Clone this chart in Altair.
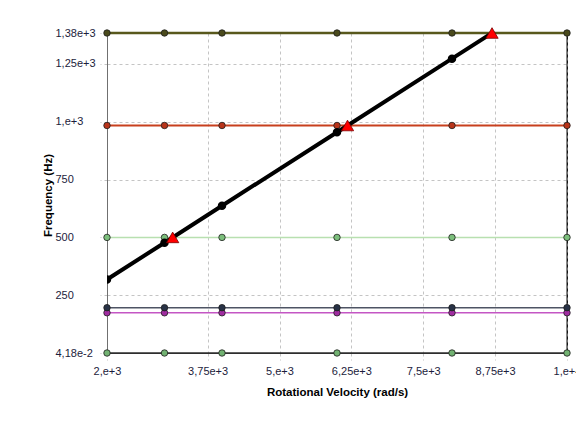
import altair as alt
import pandas as pd

# ---- data ----
speed = [2000, 3000, 4000, 6000, 8000, 10000]
mode_1 = [0.0418, 0.0418, 0.0418, 0.0418, 0.0418, 0.0418]
mode_2 = [174, 174, 174, 174, 174, 174]
mode_3 = [196, 196, 196, 196, 196, 196]
mode_4 = [500, 500, 500, 500, 500, 500]
mode_5 = [984, 984, 984, 984, 984, 984]
mode_6 = [1384, 1384, 1384, 1384, 1384, 1384]
excitation = [318, 477, 637, 955, 1273, 1592]
cross_speed = [3142, 6183, 8696]
cross_freq = [500, 984, 1384]

x_ticks = [2000, 3750, 5000, 6250, 7500, 8750, 10000]
x_labels = ["2,e+3", "3,75e+3", "5,e+3", "6,25e+3", "7,5e+3", "8,75e+3", "1,e+4"]
y_ticks = [0.0418, 250, 500, 750, 1000, 1250, 1384]
y_labels = ["4,18e-2", "250", "500", "750", "1,e+3", "1,25e+3", "1,38e+3"]

modes = [
    ("m1", mode_1, "#2e2e2e", 1.5, "#72b272"),
    ("m2", mode_2, "#c456c4", 1.5, "#a02ca0"),
    ("m3", mode_3, "#4e5464", 1.5, "#283246"),
    ("m4", mode_4, "#b8e0b0", 1.5, "#7cbf7c"),
    ("m5", mode_5, "#c8401e", 2.0, "#b8341a"),
    ("m6", mode_6, "#58581c", 2.5, "#4a4a1c"),
]


def label_expr(vals, labs):
    expr = "''"
    for v, l in zip(reversed(vals), reversed(labs)):
        expr = f"abs(datum.value - {v}) < 0.001 ? '{l}' : ({expr})"
    return expr


FONT = "Liberation Sans"
LABEL_COLOR = "#1c1c3c"

x_scale = alt.Scale(domain=[2000, 10000], nice=False, zero=False)
y_scale = alt.Scale(domain=[0.0418, 1384], nice=False, zero=False)

x_axis = alt.Axis(
    title="Rotational Velocity (rad/s)",
    values=x_ticks,
    labelExpr=label_expr(x_ticks, x_labels),
    labelPadding=5,
    titlePadding=10,
    domainColor="#333333",
    labelOverlap=False,
    labelFlush=False,
)
y_axis = alt.Axis(
    title="Frequency (Hz)",
    values=y_ticks,
    labelExpr=label_expr(y_ticks, y_labels),
    labelAlign="left",
    labelBaseline="middle",
    labelPadding=45,
    titleX=-54,
    titleY=162,
    titleAngle=-90,
    titleBaseline="bottom",
    titleAlign="center",
    domainColor="#707070",
    labelOverlap=False,
    labelFlush=False,
)


def enc(chart):
    return chart.encode(
        x=alt.X("speed:Q", scale=x_scale, axis=x_axis),
        y=alt.Y("freq:Q", scale=y_scale, axis=y_axis),
    )


layers = []
dot_layers = []
for name, vals, lcol, lw, dcol in modes:
    base = enc(alt.Chart(pd.DataFrame({"speed": speed, "freq": vals})))
    layers.append(base.mark_line(color=lcol, strokeWidth=lw))
    dot_layers.append(
        base.mark_point(filled=True, fill=dcol, stroke="#1e1e1e", strokeWidth=0.8,
                        size=42, opacity=1)
    )

# right frame edge, drawn over the dashed grid line at the last tick
right_edge = alt.Chart(pd.DataFrame({"speed": [x_ticks[-1]]})).mark_rule(
    color="#111111", strokeWidth=1
).encode(x=alt.X("speed:Q", scale=x_scale, axis=x_axis))

ex_base = enc(alt.Chart(pd.DataFrame({"speed": speed, "freq": excitation})))
ex_line = ex_base.mark_line(color="#000000", strokeWidth=4, clip=True)
ex_dots = ex_base.mark_point(filled=True, fill="#000000", stroke="#000000",
                             size=42, opacity=1, clip=True)

cross = enc(alt.Chart(pd.DataFrame({"speed": cross_speed, "freq": cross_freq}))).mark_point(
    shape="triangle-up", filled=True, fill="#ff0000", stroke="#7a0000",
    strokeWidth=0.8, size=150, opacity=1
)

chart = alt.layer(right_edge, *layers, ex_line, *dot_layers, ex_dots, cross).properties(
    width=460,
    height=320,
    autosize=alt.AutoSizeParams(type="none"),
    padding={"left": 107, "top": 33, "right": 9, "bottom": 68},
    background="white",
).configure_view(
    stroke="#1a1a1a", strokeWidth=1
).configure_axis(
    grid=True,
    gridColor="#c4c4c4",
    gridDash=[3, 3],
    gridWidth=1,
    tickColor="#c4c4c4",
    tickDash=[3, 3],
    tickSize=7,
    labelFont=FONT,
    labelFontSize=11,
    labelColor=LABEL_COLOR,
    titleFont=FONT,
    titleFontSize=11.5,
    titleFontWeight="bold",
    titleColor="#000000",
)

chart.save("out.html", embed_options={"renderer": "svg", "actions": False})
